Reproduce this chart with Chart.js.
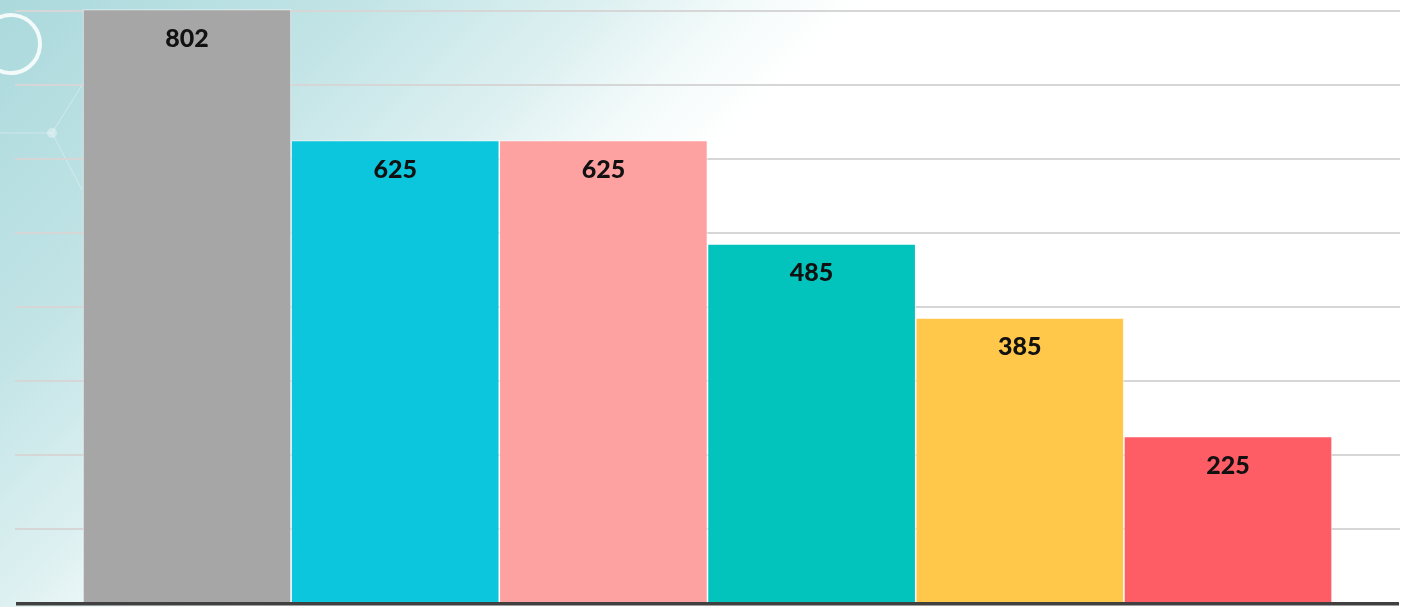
<!DOCTYPE html>
<html>
<head>
<meta charset="utf-8">
<script src="https://cdn.jsdelivr.net/npm/chart.js@4.4.1/dist/chart.umd.min.js"></script>
<style>
  html, body { margin: 0; padding: 0; }
  body {
    width: 1406px; height: 607px; overflow: hidden;
    background: linear-gradient(135deg, #abd9dc 0%, #c2e4e6 18%, #ddf0f1 30%, #f3fafa 37%, #ffffff 43%, #ffffff 100%);
  }
  #wrap { position: relative; width: 1406px; height: 607px; }
</style>
</head>
<body>
<div id="wrap"><canvas id="c" width="1406" height="607"></canvas></div>
<script>
const categories = ["A", "B", "C", "D", "E", "F"];
const values = [802, 625, 625, 485, 385, 225];
const barColors = ["#a6a6a6", "#0bc6dc", "#fea1a1", "#02c4bc", "#ffc84b", "#ff5d66"];
const yTicks = [100, 200, 300, 400, 500, 600, 700, 800];

const decoPlugin = {
  id: 'deco',
  beforeDraw(chart) {
    const ctx = chart.ctx;
    ctx.save();
    ctx.strokeStyle = 'rgba(255,255,255,0.85)';
    ctx.lineWidth = 4;
    ctx.beginPath();
    ctx.arc(11, 44, 29, -Math.PI * 0.72, Math.PI * 0.9);
    ctx.stroke();
    ctx.strokeStyle = 'rgba(255,255,255,0.35)';
    ctx.lineWidth = 1;
    ctx.beginPath();
    ctx.moveTo(0, 133); ctx.lineTo(52, 133); ctx.lineTo(82, 85);
    ctx.moveTo(52, 133); ctx.lineTo(82, 190);
    ctx.stroke();
    ctx.fillStyle = 'rgba(255,255,255,0.35)';
    ctx.beginPath(); ctx.arc(52, 133, 5, 0, Math.PI * 2); ctx.fill();
    ctx.restore();
  }
};

const labelPlugin = {
  id: 'barLabels',
  afterDatasetsDraw(chart) {
    const ctx = chart.ctx;
    const area = chart.chartArea;
    const y0 = chart.scales.y.getPixelForValue(0);
    ctx.save();
    ctx.strokeStyle = '#404040';
    ctx.lineWidth = 3.5;
    ctx.beginPath();
    ctx.moveTo(area.left + 1, y0 + 0.8);
    ctx.lineTo(area.right - 1, y0 + 0.8);
    ctx.stroke();
    const meta = chart.getDatasetMeta(0);
    ctx.font = '900 25px Lato, "Open Sans", sans-serif';
    ctx.fillStyle = '#111111';
    ctx.textAlign = 'center';
    ctx.textBaseline = 'middle';
    meta.data.forEach((bar, i) => {
      ctx.fillText(String(values[i]), bar.x, bar.y + 29);
    });
    ctx.restore();
  }
};

new Chart(document.getElementById('c'), {
  type: 'bar',
  data: {
    labels: categories,
    datasets: [{
      data: values.map((v, i) => ({ x: i, y: v })),
      backgroundColor: barColors,
      borderColor: 'rgba(255,255,255,0.55)',
      borderWidth: 1,
      barThickness: 208
    }]
  },
  options: {
    responsive: false,
    animation: false,
    layout: { padding: { left: 15, right: 6, top: 0, bottom: 4 } },
    plugins: { legend: { display: false }, tooltip: { enabled: false } },
    scales: {
      x: {
        type: 'linear',
        display: false,
        offset: false,
        min: -0.826,
        max: 5.826
      },
      y: {
        min: 0,
        max: 815,
        ticks: { display: false },
        afterBuildTicks(scale) {
          scale.ticks = yTicks.map(v => ({ value: v }));
        },
        grid: { color: '#d6d6d6', lineWidth: 2, drawTicks: false },
        border: { display: false }
      }
    }
  },
  plugins: [decoPlugin, labelPlugin]
});
</script>
</body>
</html>
